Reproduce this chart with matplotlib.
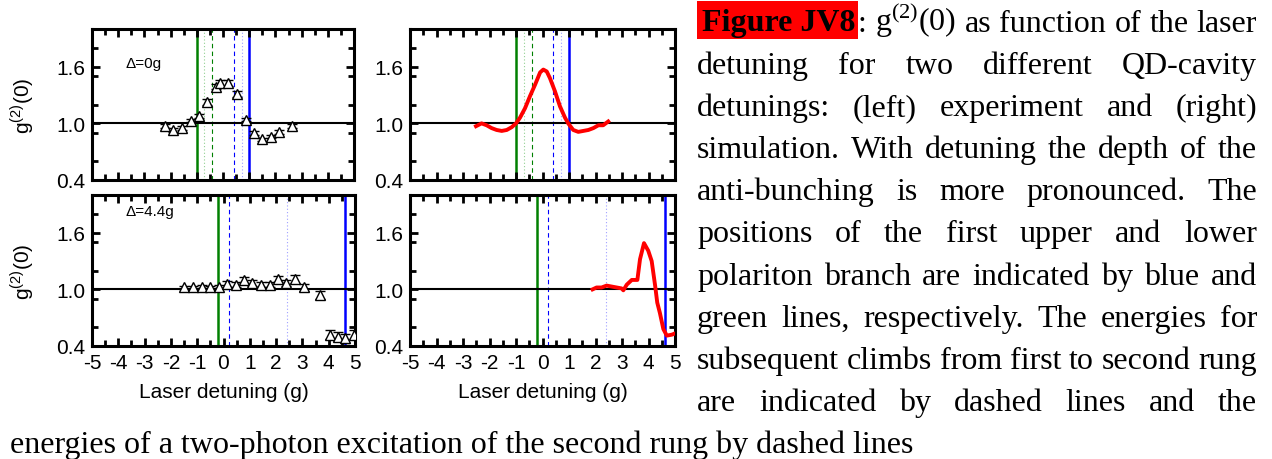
import matplotlib
matplotlib.use('Agg')
import matplotlib.pyplot as plt
from matplotlib.ticker import MultipleLocator, FixedLocator
from matplotlib.patches import Rectangle

plt.rcParams['font.family'] = ['Liberation Sans', 'DejaVu Sans']

# ---------------- data ----------------
# Delta = 0g, experiment
exp0_x = [-2.21, -1.90, -1.55, -1.23, -0.92, -0.60, -0.28, -0.11, 0.20, 0.52,
          0.87, 1.19, 1.50, 1.82, 2.14, 2.65]
exp0_y = [0.97, 0.93, 0.95, 1.03, 1.08, 1.23, 1.39, 1.43, 1.43, 1.31,
          1.04, 0.90, 0.83, 0.86, 0.91, 0.97]
exp0_err = [0.02, 0.02, 0.02, 0.02, 0.02, 0.03, 0.03, 0.03, 0.03, 0.03,
            0.02, 0.02, 0.02, 0.02, 0.02, 0.02]

# Delta = 0g, simulation
sim0_x = [-2.51, -2.30, -2.11, -1.92, -1.73, -1.54, -1.35, -1.16, -1.00, -0.85,
          -0.66, -0.47, -0.28, -0.09, 0.03, 0.16, 0.28, 0.47, 0.66, 0.85,
          0.97, 1.16, 1.35, 1.54, 1.73, 1.92, 2.11, 2.29, 2.48]
sim0_y = [0.97, 1.00, 0.98, 0.95, 0.93, 0.92, 0.93, 0.96, 1.00, 1.06,
          1.16, 1.29, 1.41, 1.54, 1.57, 1.55, 1.48, 1.34, 1.18, 1.06,
          1.00, 0.93, 0.91, 0.92, 0.93, 0.95, 0.98, 0.98, 1.02]

# Delta = 4.4g, experiment
exp44_x = [-1.50, -1.15, -0.82, -0.50, -0.18, 0.14, 0.46, 0.78, 1.10, 1.41,
           1.76, 2.06, 2.38, 2.70, 3.05, 3.68, 4.04, 4.37, 4.62, 4.96]
exp44_y = [1.02, 1.02, 1.03, 1.02, 1.03, 1.06, 1.05, 1.10, 1.07, 1.05,
           1.05, 1.11, 1.07, 1.11, 1.02, 0.94, 0.52, 0.50, 0.48, 0.52]
exp44_err = [0.02, 0.02, 0.02, 0.02, 0.02, 0.03, 0.03, 0.03, 0.03, 0.03,
             0.03, 0.03, 0.03, 0.04, 0.04, 0.04, 0.05, 0.05, 0.05, 0.05]

# Delta = 4.4g, simulation
sim44_x = [1.89, 2.04, 2.23, 2.42, 2.61, 2.80, 2.99, 3.05, 3.18, 3.37,
           3.58, 3.68, 3.83, 3.99, 4.12, 4.25, 4.33, 4.43, 4.56, 4.69,
           4.88, 5.06]
sim44_y = [1.00, 1.02, 1.02, 1.04, 1.03, 1.02, 1.01, 0.99, 1.05, 1.10,
           1.10, 1.32, 1.49, 1.41, 1.30, 1.04, 0.86, 0.75, 0.58, 0.51,
           0.52, 0.54]

# energy markers (in units of g)
lp0, up0 = -1.0, 1.0
climb0 = [-0.414, 0.414]
twoph0 = [-0.707, 0.707]
lp44, up44 = -0.217, 4.617
climb44 = 0.198
twoph44 = 2.41

delta_labels = ['\u0394=0g', '\u0394=4.4g']
xlabel = 'Laser detuning (g)'
ylabel = 'g$^{\\mathregular{(2)}}$(0)'
xticks = [-5, -4, -3, -2, -1, 0, 1, 2, 3, 4, 5]
yticks = [0.4, 1.0, 1.6]

caption_lines = [
    ': g$^{\\mathregular{(2)}}$(0) as function of the laser',
    'detuning for two different QD-cavity',
    'detunings: (left) experiment and (right)',
    'simulation. With detuning the depth of the',
    'anti-bunching is more pronounced. The',
    'positions of the first upper and lower',
    'polariton branch are indicated by blue and',
    'green lines, respectively. The energies for',
    'subsequent climbs from first to second rung',
    'are indicated by dashed lines and the',
]
caption_last = 'energies of a two-photon excitation of the second rung by dashed lines'
caption_title = 'Figure JV8'

# ---------------- figure ----------------
W, H = 1272, 460
fig = plt.figure(figsize=(W / 100, H / 100), dpi=100)


def add_ax(l, t, w, h):
    return fig.add_axes([l / W, (H - t - h) / H, w / W, h / H])


axTL = add_ax(92, 30, 262, 151)
axBL = add_ax(92, 196, 263, 151)
axTR = add_ax(410, 30, 265, 151)
axBR = add_ax(410, 196, 265, 151)

GREEN = '#008000'
BLUE = '#0000ff'
TFS = 15


def style(ax, bottom_labels, left_label):
    ax.set_xlim(-5, 5)
    ax.set_ylim(0.4, 2.0)
    ax.xaxis.set_major_locator(FixedLocator(xticks))
    ax.xaxis.set_minor_locator(MultipleLocator(0.5))
    ax.yaxis.set_major_locator(FixedLocator(yticks))
    ax.yaxis.set_minor_locator(MultipleLocator(0.3))
    ax.tick_params(which='both', direction='in', top=True, right=True,
                   labelsize=TFS, width=2)
    ax.tick_params(which='major', length=6, pad=5)
    ax.tick_params(which='minor', length=4)
    ax.set_yticklabels(['0.4', '1.0', '1.6'])
    if bottom_labels:
        ax.set_xticklabels([str(v) for v in xticks])
        ax.set_xlabel(xlabel, fontsize=TFS, labelpad=7)
    else:
        ax.set_xticklabels([])
    if left_label:
        ax.set_ylabel(ylabel, fontsize=TFS, labelpad=14)
    for s in ax.spines.values():
        s.set_linewidth(2.2)
    ax.axhline(1.0, color='black', lw=1.5, zorder=2)


for ax, bl, ll in [(axTL, False, True), (axBL, True, True),
                   (axTR, False, False), (axBR, True, False)]:
    style(ax, bl, ll)

# vertical marker lines, Delta = 0
for ax in (axTL, axTR):
    ax.axvline(lp0, color=GREEN, lw=1.8, zorder=1)
    ax.axvline(up0, color=BLUE, lw=1.8, zorder=1)
    ax.axvline(climb0[0], color=GREEN, lw=0.8, ls=(0, (4, 3)), zorder=1)
    ax.axvline(climb0[1], color=BLUE, lw=0.8, ls=(0, (4, 3)), zorder=1)
    ax.axvline(twoph0[0], color='#90d090', lw=0.8, ls=(0, (1, 2)), zorder=1)
    ax.axvline(twoph0[1], color='#a0a0ff', lw=0.8, ls=(0, (1, 2)), zorder=1)

# vertical marker lines, Delta = 4.4
for ax in (axBL, axBR):
    ax.axvline(lp44, color=GREEN, lw=1.8, zorder=1)
    ax.axvline(up44, color=BLUE, lw=1.8, zorder=1)
    ax.axvline(climb44, color=BLUE, lw=0.8, ls=(0, (4, 3)), zorder=1)
    ax.axvline(twoph44, color='#a0a0ff', lw=0.8, ls=(0, (1, 2)), zorder=1)

# experiment
for ax, x, y, e in [(axTL, exp0_x, exp0_y, exp0_err),
                    (axBL, exp44_x, exp44_y, exp44_err)]:
    ax.errorbar(x, y, yerr=e, fmt='^', ms=6.5, mfc='white', mec='black',
                mew=1.0, ecolor='black', elinewidth=1.0, capsize=3.5,
                capthick=1.8, zorder=3)

# simulation
axTR.plot(sim0_x, sim0_y, color='red', lw=2.8, zorder=3)
axBR.plot(sim44_x, sim44_y, color='red', lw=2.8, zorder=3)

axTL.text(-3.74, 1.64, delta_labels[0], fontsize=11, va='center', ha='left')
axBL.text(-3.74, 1.83, delta_labels[1], fontsize=11, va='center', ha='left')

# ---------------- caption text (justified) ----------------
SERIF = ['Liberation Serif', 'DejaVu Serif']
FS = 23
renderer = fig.canvas.get_renderer()


def ptext(x, ytop, s, **kw):
    return fig.text(x / W, (H - ytop) / H, s, family=SERIF, fontsize=FS,
                    va='baseline', ha='left', **kw)


def justify(line, x0, x1, ybase):
    words = line.split(' ')
    ts = [ptext(0, ybase, w) for w in words]
    ws = [t.get_window_extent(renderer).width for t in ts]
    gap = (x1 - x0 - sum(ws)) / max(len(ws) - 1, 1)
    x = x0
    for t, w in zip(ts, ws):
        t.set_x(x / W)
        x += w + gap


fig.patches.append(Rectangle((697 / W, (H - 40) / H), 161 / W, 38 / H,
                             transform=fig.transFigure, facecolor='#ff0000',
                             edgecolor='none', zorder=0))
ptext(702, 31, caption_title, fontweight='bold')

x_left, x_right = 697, 1257
base0, step = 31.5, 42.2
justify(caption_lines[0], 858, x_right, base0)
for i, line in enumerate(caption_lines[1:], start=1):
    justify(line, x_left, x_right, base0 + i * step)
ptext(10, base0 + 10 * step, caption_last)

fig.savefig('out.png', dpi=100)
